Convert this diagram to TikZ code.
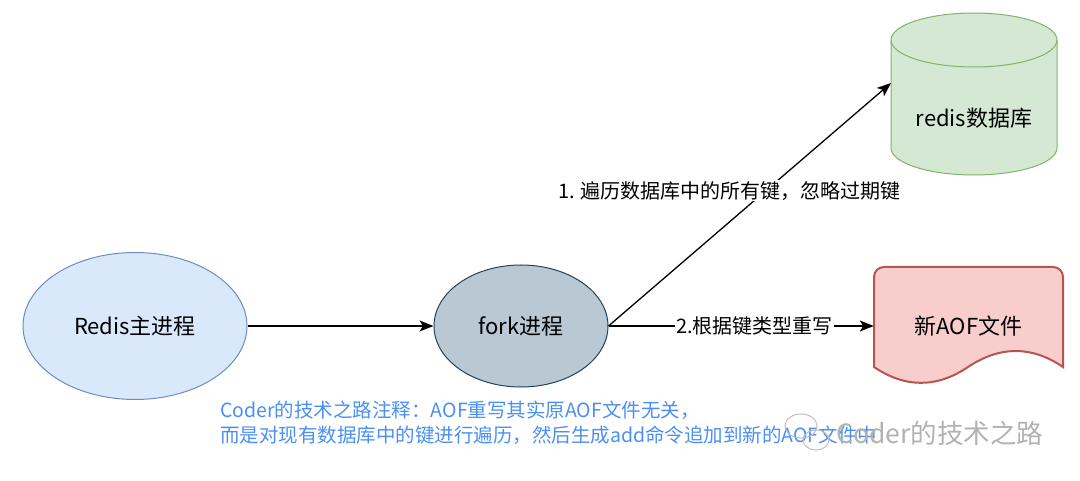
\documentclass[tikz,border=0pt]{standalone}
\usepackage{fontspec}
\setmainfont{Noto Sans CJK SC}
\usetikzlibrary{arrows.meta,shapes.geometric}
\definecolor{mainfill}{HTML}{DAE8FC}
\definecolor{mainline}{HTML}{6C8EBF}
\definecolor{forkfill}{HTML}{BAC8D3}
\definecolor{forkline}{HTML}{23445D}
\definecolor{dbfill}{HTML}{D5E8D4}
\definecolor{dbline}{HTML}{82B366}
\definecolor{aoffill}{HTML}{F8CECC}
\definecolor{aofline}{HTML}{B85450}
\definecolor{notecol}{HTML}{4A8FF5}

\begin{document}
\begin{tikzpicture}[x=1bp,y=-1bp,font=\fontsize{20bp}{24bp}\selectfont,
  proc/.style={ellipse,draw,line width=1bp,inner sep=0pt,font=\fontsize{22bp}{26bp}\selectfont},
  box/.style={font=\fontsize{22bp}{26bp}\selectfont},
  flow/.style={-{Stealth[length=14bp,width=11bp,inset=3.5bp]},line width=1.3bp},
  lbl/.style={fill=white,inner sep=1bp}]
\useasboundingbox (0,0) rectangle (1080,481);
\node[proc,fill=mainfill,draw=mainline,minimum width=224bp,minimum height=147bp](main) at(135,326){Redis主进程};
\node[proc,fill=forkfill,draw=forkline,minimum width=174bp,minimum height=122bp](fork) at(521,326){fork进程};
% database cylinder
\filldraw[fill=dbfill,draw=dbline,line width=1bp](891,40)--(891,148) arc(180:0:83 and 27)--(1057,40) arc(0:-180:83 and 27)--cycle;
\draw[dbline,line width=1bp](891,40) arc(180:0:83 and 27);
\node[box](db) at(974,118){redis数据库};
\coordinate(dbin) at(891,83);
% new aof file
\filldraw[fill=aoffill,draw=aofline,line width=2bp](874,367)--(874,277) arc(180:270:10)--(1053,267) arc(270:360:10)--(1063,367)
  .. controls (1031.7,345.7) and (1000,345.7) .. (968,367) .. controls (936.7,388.1) and (905.3,388.1) .. (874,367)--cycle;
\node[box,minimum width=189bp,minimum height=100bp](aof) at(968.5,326){新AOF文件};
\draw[flow](main)--(fork);
\draw[flow](fork.east)--(dbin) node[lbl,pos=0.556,xshift=-36bp]{1. 遍历数据库中的所有键，忽略过期键};
\draw[flow](fork.east)--(aof.west) node[lbl,pos=0.55]{2.根据键类型重写};
% note and watermark
\node[anchor=north west,align=left,text=notecol,font=\fontsize{19.5bp}{25bp}\selectfont,inner sep=0pt](note) at(220,401){Coder的技术之路注释：AOF重写其实原AOF文件无关，\\而是对现有数据库中的键进行遍历，然后生成add命令追加到新的AOF文件中};
\draw[gray!50,line width=1bp](801,426) ellipse(16 and 12) (816,440) ellipse(13 and 10);
\node[text=gray!60,font=\fontsize{26.5bp}{30bp}\selectfont,anchor=west,inner sep=0pt](wm) at(836,433){Coder的技术之路};
\end{tikzpicture}
\end{document}
